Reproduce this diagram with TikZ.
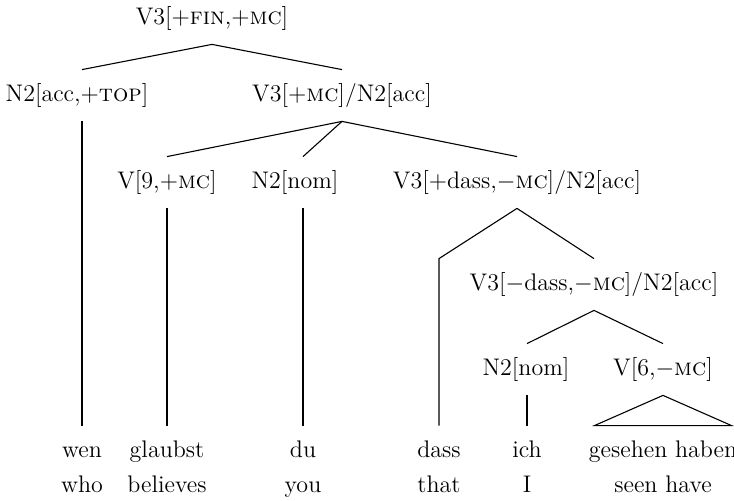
\documentclass[tikz,border=0pt]{standalone}
\usepackage{tikz}
\usetikzlibrary{positioning, calc}

\begin{document}
\begin{tikzpicture}[
    x=0.5pt, y=-0.5pt,
    font=\fontsize{12}{14.4}\selectfont,
    cat/.style    = {anchor=base, inner xsep=1pt, inner ysep=6.5pt,
                     text height=9.5pt, text depth=3pt},
    word/.style   = {cat, inner xsep=0pt},
    gloss/.style  = {anchor=base, inner sep=0pt},
    branch/.style = {draw=black, line width=0.55pt}
  ]
  \useasboundingbox (0,0) rectangle (734,501);

  % --- category labels ---
  \node[cat] (S)     at (212,25)  {V3[+\textsc{fin},+\textsc{mc}]};
  \node[cat] (topic) at (77,102)  {N2[acc,+\textsc{top}]};
  \node[cat] (slash) at (342,102) {V3[+\textsc{mc}]/N2[acc]};
  \node[cat] (verb)  at (167,189) {V[9,+\textsc{mc}]};
  \node[cat] (subjA) at (295,189) {N2[nom]};
  \node[cat] (dassP) at (517,189) {V3[+dass,$-$\textsc{mc}]/N2[acc]};
  \node[cat] (vp)    at (594,291) {V3[$-$dass,$-$\textsc{mc}]/N2[acc]};
  \node[cat] (subjB) at (526,376) {N2[nom]};
  \node[cat] (vfin)  at (663,376) {V[6,$-$\textsc{mc}]};

  % --- words and glosses ---
  \node[word] (wen)     at (82,458)  {wen};
  \node[word] (glaubst) at (167,458) {glaubst};
  \node[word] (du)      at (303,458) {du};
  \node[word] (dass)    at (439,458) {dass};
  \node[word] (ich)     at (527,458) {ich};
  \node[word] (gh)      at (663,458) {gesehen haben};

  \node[gloss] (who)      at (82,493)  {who};
  \node[gloss] (believes) at (167,493) {believes};
  \node[gloss] (you)      at (303,493) {you};
  \node[gloss] (that)     at (439,493) {that};
  \node[gloss] (I)        at (527,493) {I};
  \node[gloss] (seen)     at (663,493) {seen have};

  % --- branches ---
  \draw[branch] (S.south) -- (wen.north |- topic.north);
  \draw[branch] (S.south) -- (slash.north);
  \draw[branch] (wen.north |- topic.south) -- (wen.north);

  \draw[branch] (slash.south) -- (verb.north);
  \draw[branch] (slash.south) -- (du.north |- subjA.north);
  \draw[branch] (slash.south) -- (dassP.north);
  \draw[branch] (verb.south) -- (glaubst.north);
  \draw[branch] (du.north |- subjA.south) -- (du.north);

  \coordinate (dassbend) at (dass.north |- vp.north);
  \draw[branch] (dassP.south) -- (dassbend) -- (dass.north);
  \draw[branch] (dassP.south) -- (vp.north);

  \draw[branch] (vp.south) -- (ich.north |- subjB.north);
  \draw[branch] (vp.south) -- (vfin.north);
  \draw[branch] (ich.north |- subjB.south) -- (ich.north);

  % --- roof over the verb cluster ---
  \draw[branch] (vfin.south) -- ([xshift=3pt]gh.north west) -- ([xshift=-3pt]gh.north east) -- cycle;

\end{tikzpicture}
\end{document}
